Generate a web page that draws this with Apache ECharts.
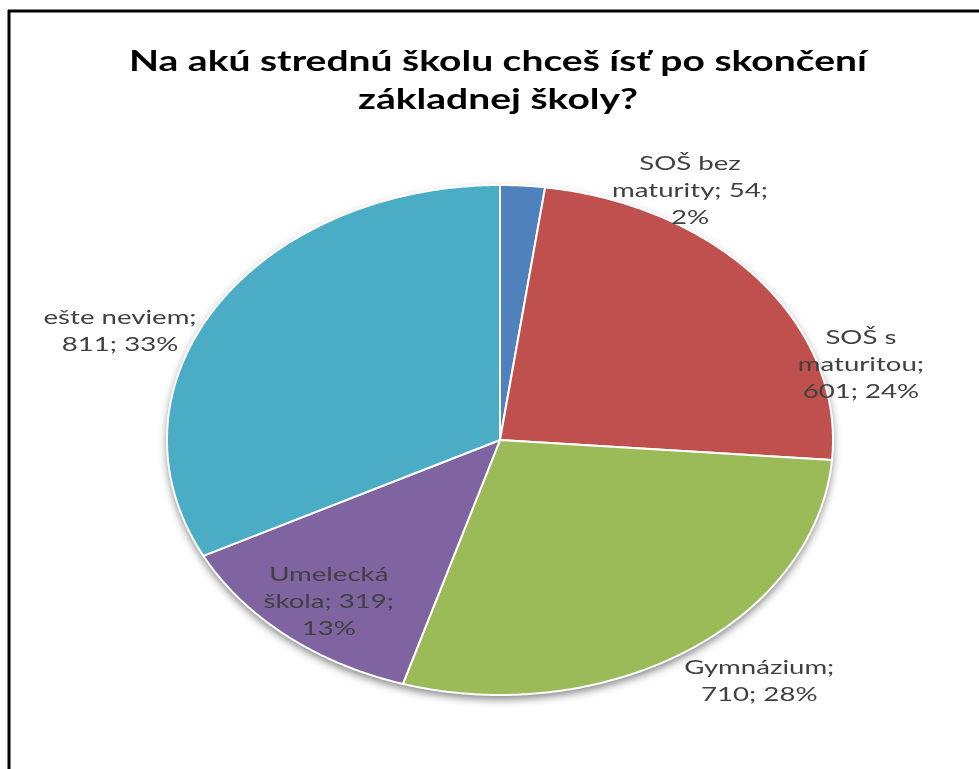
<!DOCTYPE html>
<html>
<head>
<meta charset="utf-8">
<script src="https://cdn.jsdelivr.net/npm/echarts@6/dist/echarts.min.js"></script>
<style>
  html, body { margin: 0; padding: 0; background: #fff; }
  #chart { width: 979px; height: 769px; }
</style>
</head>
<body>
<div id="chart"></div>
<script>
// ---- data ----
const titleText = 'Na akú strednú školu chceš ísť po skončení\nzákladnej školy?';
const categories = ['SOŠ bez maturity', 'SOŠ s maturitou', 'Gymnázium', 'Umelecká škola', 'ešte neviem'];
const values = [54, 601, 710, 319, 811];

// ---- layout / style (not data) ----
const colors = ['#4F81BD', '#C0504D', '#9BBB59', '#8064A2', '#4BACC6'];
const labelBreaks = [[2, 4], [2, 3], [1], [1, 3], [2]];      // word index after which a line break goes
const labelAngleDeg = [30.2, 74.8, 140.5, 219, 290.5];      // label anchor direction (clockwise from top)
const labelRadius = [1.134, 1.123, 1.224, 0.817, 1.218];      // label anchor distance (fraction of radius)
const CX = 500, CY = 440, RY = 255, STRETCH = 1.306, RX = RY * STRETCH;
const TITLE_SCALE = 1.345, LABEL_SCALE = 1.38;

const total = values.reduce((a, b) => a + b, 0);
const cum = [0];
values.forEach((v, i) => cum.push(cum[i] + v));

function labelText(i) {
  const pct = Math.round(values[i] / total * 100);
  const words = (categories[i] + '; ' + values[i] + '; ' + pct + '%').split(' ');
  const lines = [];
  let cur = [];
  words.forEach((w, k) => {
    cur.push(w);
    if (labelBreaks[i].includes(k + 1)) { lines.push(cur.join(' ')); cur = []; }
  });
  if (cur.length) lines.push(cur.join(' '));
  return lines.join('\n');
}

function pt(a, r) {
  return [CX + RX * r * Math.sin(a), CY - RY * r * Math.cos(a)];
}

const chart = echarts.init(document.getElementById('chart'), null, { renderer: 'canvas' });

chart.setOption({
  animation: false,
  backgroundColor: '#fff',
  graphic: [
    { type: 'line', shape: { x1: 8, y1: 11, x2: 979, y2: 11 }, style: { stroke: '#000', lineWidth: 3 }, z: 0 },
    { type: 'line', shape: { x1: 9, y1: 10, x2: 9, y2: 769 }, style: { stroke: '#000', lineWidth: 3 }, z: 0 },
    {
      type: 'text', x: 498, y: 81, scaleX: TITLE_SCALE, z: 5,
      style: {
        x: 0, y: 0, text: titleText, align: 'center', verticalAlign: 'middle',
        font: 'bold 29px Lato', lineHeight: 38, fill: '#000'
      }
    },
    {
      type: 'circle', x: CX, y: CY, scaleX: STRETCH, z: 0,
      shape: { cx: 0, cy: 0, r: RY },
      style: { fill: '#fff', shadowBlur: 9, shadowColor: 'rgba(0,0,0,0.5)', shadowOffsetY: 4 }
    }
  ],
  series: [{
    type: 'custom',
    coordinateSystem: 'none',
    data: values,
    renderItem: function (params, api) {
      const i = params.dataIndex;
      const a0 = cum[i] / total * Math.PI * 2;
      const a1 = (cum[i] + api.value(0)) / total * Math.PI * 2;
      const n = Math.max(2, Math.ceil((a1 - a0) / (Math.PI / 360)));
      const pts = [[CX, CY]];
      for (let k = 0; k <= n; k++) pts.push(pt(a0 + (a1 - a0) * k / n, 1));
      const la = labelAngleDeg[i] * Math.PI / 180;
      const lp = pt(la, labelRadius[i]);
      return {
        type: 'group',
        children: [
          {
            type: 'polygon',
            shape: { points: pts },
            style: { fill: colors[i], stroke: '#fff', lineWidth: 2, lineJoin: 'round' }
          },
          {
            type: 'text', x: lp[0], y: lp[1], scaleX: LABEL_SCALE, z2: 100,
            style: {
              x: 0, y: 0, text: labelText(i), align: 'center', verticalAlign: 'middle',
              font: '20px Lato', lineHeight: 27, fill: '#404040'
            }
          }
        ]
      };
    }
  }]
});
</script>
</body>
</html>
